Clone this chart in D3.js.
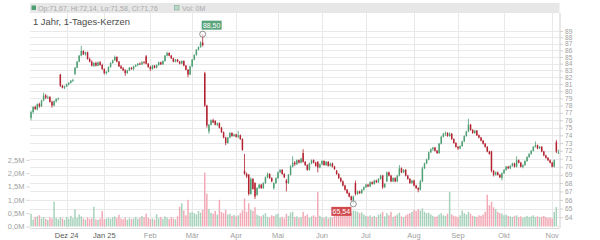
<!DOCTYPE html>
<html>
<head>
<meta charset="utf-8">
<script src="https://cdn.jsdelivr.net/npm/d3@7"></script>
<style>
body { margin: 0; background: #fff; }
svg { display: block; font-family: "Liberation Sans", Arial, sans-serif; }
</style>
</head>
<body>
<svg id="chart" width="600" height="240"></svg>
<script>
// trading calendar (Xetra), one candle per trading day
const firstDay = '2024-11-07';
const holidays = ['2024-12-24', '2024-12-25', '2024-12-26', '2024-12-31', '2025-01-01', '2025-04-18', '2025-04-21', '2025-05-01'];

const openPrice = [
	76.3, 77.1, 77.8, 77.5, 78.2, 77.9, 78.7, 79.4, 79.1, 79.2,
	78.5, 78.0, 78.6, 78.9, 82.4, 80.8, 80.5, 80.7, 81.0, 81.2,
	81.5, 82.5, 83.4, 84.3, 85.2, 85.9, 85.4, 85.7, 84.7, 84.3,
	83.7, 84.1, 83.7, 84.2, 83.8, 83.2, 82.6, 82.8, 83.5, 84.1,
	84.5, 85.0, 84.3, 83.6, 83.3, 83.0, 82.6, 83.0, 83.4, 83.2,
	83.6, 83.8, 84.0, 83.9, 84.2, 85.1, 84.0, 83.5, 83.2, 83.7,
	83.4, 83.8, 84.2, 83.9, 84.4, 85.2, 85.6, 85.2, 84.8, 84.3,
	84.6, 84.3, 84.0, 84.4, 83.7, 83.1, 82.4, 83.6, 84.6, 85.3,
	86.1, 86.5, 87.2, 82.6, 78.0, 74.5, 75.4, 76.0, 75.9, 75.4,
	75.6, 75.0, 74.4, 73.7, 73.0, 73.7, 74.3, 73.9, 74.1, 73.8,
	74.0, 73.5, 69.5, 69.1, 69.0, 66.7, 68.5, 68.0, 66.6, 67.4,
	67.8, 67.4, 68.0, 68.7, 69.1, 68.6, 67.4, 68.0, 68.6, 69.3,
	69.6, 69.1, 68.3, 68.0, 69.0, 70.0, 70.5, 70.3, 70.8, 70.5,
	71.7, 70.6, 70.2, 69.6, 70.4, 70.8, 70.5, 70.6, 69.9, 70.3,
	70.7, 70.2, 70.6, 70.1, 70.4, 70.0, 69.5, 69.1, 68.6, 68.2,
	67.7, 67.2, 66.8, 66.4, 65.9, 68.0, 66.7, 67.0, 66.8, 67.2,
	67.5, 67.8, 67.6, 68.1, 67.9, 68.3, 68.1, 68.5, 68.9, 67.5,
	68.2, 69.3, 68.9, 68.2, 68.6, 68.2, 68.9, 69.8, 69.3, 69.6,
	68.9, 68.5, 68.0, 68.3, 67.7, 67.4, 67.2, 68.2, 69.8, 70.4,
	70.9, 71.8, 72.2, 72.4, 72.0, 71.7, 72.9, 73.8, 74.2, 74.3,
	73.9, 74.2, 73.5, 73.0, 72.5, 72.3, 72.6, 73.2, 73.9, 74.5,
	75.4, 74.7, 74.3, 74.6, 74.0, 73.7, 73.3, 72.9, 72.5, 71.9,
	71.9, 69.5, 69.0, 69.3, 69.0, 68.6, 69.2, 69.6, 70.0, 69.8,
	70.1, 70.4, 70.0, 70.8, 70.5, 70.0, 70.2, 70.7, 71.2, 71.6,
	72.0, 72.5, 72.7, 72.3, 72.5, 71.9, 71.4, 71.1, 70.8, 70.5,
	70.0, 73.1, 71.67
];

const highPrice = [
	77.3, 77.9, 78.0, 78.3, 78.4, 78.8, 79.8, 79.6, 79.4, 79.3,
	78.7, 78.7, 79.0, 79.1, 82.5, 80.9, 80.8, 81.1, 81.3, 81.6,
	81.8, 83.5, 84.4, 85.3, 86.7, 86.0, 85.8, 85.8, 84.9, 84.5,
	84.2, 84.3, 84.3, 84.4, 84.0, 83.3, 82.9, 83.6, 84.2, 84.6,
	85.2, 85.1, 84.4, 83.8, 83.5, 83.2, 83.1, 83.5, 83.5, 83.7,
	83.9, 84.1, 84.2, 84.4, 84.4, 85.3, 84.1, 83.7, 83.8, 83.8,
	83.9, 84.3, 84.3, 84.5, 85.3, 85.8, 85.7, 85.3, 84.9, 84.7,
	84.7, 84.4, 84.5, 84.5, 83.8, 83.2, 83.7, 84.7, 85.4, 86.2,
	86.6, 87.4, 88.5, 82.8, 78.1, 75.5, 76.1, 76.2, 76.0, 75.7,
	75.7, 75.1, 74.5, 73.8, 73.8, 74.4, 74.4, 74.2, 74.2, 74.6,
	74.1, 73.6, 71.6, 69.3, 69.1, 68.7, 68.6, 68.1, 67.5, 67.9,
	67.9, 68.1, 68.8, 69.3, 69.2, 68.7, 68.1, 68.7, 69.4, 69.7,
	69.7, 69.2, 68.5, 69.1, 70.2, 71.3, 70.7, 70.9, 70.9, 71.1,
	72.2, 70.7, 70.3, 70.5, 70.9, 70.9, 70.6, 70.7, 70.4, 70.8,
	70.8, 70.7, 70.7, 70.5, 70.5, 70.1, 69.6, 69.2, 68.7, 68.3,
	67.8, 67.3, 66.9, 66.5, 66.5, 68.3, 67.1, 67.1, 67.3, 67.6,
	67.9, 67.9, 68.2, 68.2, 68.4, 68.4, 68.6, 69.0, 69.0, 68.0,
	69.4, 69.4, 69.0, 68.7, 68.7, 69.0, 70.2, 69.9, 69.7, 69.7,
	69.0, 68.6, 68.4, 68.4, 67.8, 67.5, 68.4, 70.0, 70.5, 71.0,
	71.9, 72.3, 72.5, 72.5, 72.1, 73.0, 73.9, 74.3, 74.5, 74.4,
	74.4, 74.3, 73.6, 73.1, 72.6, 72.7, 73.3, 74.0, 74.6, 76.2,
	75.5, 74.8, 74.7, 74.7, 74.1, 73.8, 73.4, 73.0, 72.6, 72.0,
	72.0, 69.6, 69.4, 69.4, 69.1, 69.3, 69.7, 70.1, 70.1, 70.2,
	70.5, 70.5, 71.3, 70.9, 70.6, 70.3, 70.8, 71.3, 71.7, 72.1,
	72.6, 73.2, 72.8, 72.6, 72.6, 72.0, 71.5, 71.2, 70.9, 70.6,
	70.9, 73.4, 72.14
];

const lowPrice = [
	76.0, 76.9, 77.4, 77.3, 77.7, 77.8, 78.6, 78.9, 78.9, 78.4,
	77.7, 77.9, 78.4, 78.7, 80.6, 80.4, 80.3, 80.6, 80.8, 81.1,
	81.3, 82.3, 83.3, 84.2, 85.1, 85.3, 85.2, 84.6, 84.2, 83.6,
	83.5, 83.6, 83.6, 83.7, 83.1, 82.4, 82.4, 82.7, 83.4, 84.0,
	84.4, 84.2, 83.5, 83.2, 82.9, 82.2, 82.5, 82.9, 83.1, 83.0,
	83.5, 83.6, 83.8, 83.8, 84.0, 83.9, 83.4, 82.9, 83.1, 83.3,
	83.3, 83.7, 83.8, 83.8, 84.3, 85.1, 85.1, 84.7, 84.2, 84.2,
	84.2, 83.9, 83.9, 83.6, 83.0, 82.0, 82.3, 83.5, 84.5, 85.2,
	86.0, 86.4, 86.6, 77.8, 75.0, 74.2, 75.3, 75.6, 75.3, 75.2,
	74.9, 74.3, 73.6, 72.7, 72.9, 73.6, 73.8, 73.8, 73.7, 73.6,
	73.4, 72.0, 69.0, 68.6, 66.5, 66.6, 67.2, 66.1, 66.5, 67.3,
	67.3, 67.3, 67.9, 68.6, 68.5, 68.1, 67.2, 67.9, 68.5, 69.2,
	69.0, 68.6, 67.0, 67.9, 68.9, 69.9, 70.1, 70.2, 70.4, 70.4,
	70.5, 70.1, 69.5, 69.5, 70.3, 70.4, 70.0, 69.3, 69.8, 70.2,
	70.1, 70.1, 70.0, 70.0, 69.9, 69.6, 69.0, 68.5, 68.1, 67.6,
	67.1, 66.7, 66.3, 65.9, 65.54, 66.5, 66.6, 66.7, 66.7, 67.1,
	67.4, 67.5, 67.5, 67.8, 67.8, 68.0, 68.0, 68.4, 67.3, 67.4,
	68.1, 68.8, 68.1, 68.1, 68.1, 68.1, 68.8, 69.2, 69.2, 68.8,
	68.4, 67.9, 67.9, 67.6, 67.3, 66.9, 67.1, 68.1, 69.7, 70.3,
	70.8, 71.7, 72.0, 71.9, 71.6, 71.6, 72.8, 73.7, 73.9, 73.8,
	73.8, 73.4, 72.9, 72.4, 72.1, 72.2, 72.5, 73.1, 73.8, 74.4,
	74.6, 74.2, 74.2, 73.9, 73.6, 73.2, 72.8, 72.4, 71.8, 71.5,
	69.3, 68.8, 68.9, 68.9, 68.6, 68.3, 69.1, 69.5, 69.7, 69.7,
	70.0, 69.9, 69.9, 70.4, 69.9, 69.8, 70.1, 70.6, 71.1, 71.5,
	71.9, 72.4, 72.2, 72.2, 71.8, 71.3, 71.0, 70.7, 70.4, 69.9,
	69.9, 71.7, 71.58
];

const closePrice = [
	77.1, 77.8, 77.5, 78.2, 77.9, 78.7, 79.4, 79.1, 79.2, 78.5,
	78.0, 78.6, 78.9, 79.0, 80.8, 80.5, 80.7, 81.0, 81.2, 81.5,
	81.6, 83.4, 84.3, 85.2, 85.9, 85.4, 85.7, 84.7, 84.3, 83.7,
	84.1, 83.7, 84.2, 83.8, 83.2, 82.6, 82.8, 83.5, 84.1, 84.5,
	85.0, 84.3, 83.6, 83.3, 83.0, 82.6, 83.0, 83.4, 83.2, 83.6,
	83.8, 84.0, 83.9, 84.2, 84.1, 84.0, 83.5, 83.2, 83.7, 83.4,
	83.8, 84.2, 83.9, 84.4, 85.2, 85.6, 85.2, 84.8, 84.3, 84.6,
	84.3, 84.0, 84.4, 83.7, 83.1, 82.4, 83.6, 84.6, 85.3, 86.1,
	86.5, 87.2, 86.8, 78.0, 75.3, 75.4, 76.0, 75.7, 75.4, 75.6,
	75.0, 74.4, 73.7, 73.0, 73.7, 74.3, 73.9, 74.1, 73.8, 74.0,
	73.5, 72.1, 69.1, 68.8, 66.7, 68.5, 67.3, 66.4, 67.4, 67.8,
	67.4, 68.0, 68.7, 69.1, 68.6, 68.2, 68.0, 68.6, 69.3, 69.6,
	69.1, 68.7, 68.0, 69.0, 70.0, 70.5, 70.3, 70.8, 70.5, 71.0,
	70.6, 70.2, 69.6, 70.4, 70.8, 70.5, 70.1, 69.9, 70.3, 70.7,
	70.2, 70.6, 70.1, 70.4, 70.0, 69.7, 69.1, 68.6, 68.2, 67.7,
	67.2, 66.8, 66.4, 66.0, 66.4, 66.7, 67.0, 66.8, 67.2, 67.5,
	67.8, 67.6, 68.1, 67.9, 68.3, 68.1, 68.5, 68.9, 67.5, 67.9,
	69.3, 68.9, 68.2, 68.6, 68.2, 68.9, 69.8, 69.3, 69.6, 68.9,
	68.5, 68.0, 68.3, 67.7, 67.4, 67.2, 68.2, 69.8, 70.4, 70.9,
	71.8, 72.2, 72.4, 72.0, 71.7, 72.9, 73.8, 74.2, 74.3, 73.9,
	74.2, 73.5, 73.0, 72.5, 72.3, 72.6, 73.2, 73.9, 74.5, 75.4,
	74.7, 74.3, 74.6, 74.0, 73.7, 73.3, 72.9, 72.5, 71.9, 71.6,
	69.5, 69.0, 69.3, 69.0, 68.7, 69.2, 69.6, 70.0, 69.8, 70.1,
	70.4, 70.0, 70.8, 70.5, 70.0, 70.2, 70.7, 71.2, 71.6, 72.0,
	72.5, 72.7, 72.3, 72.5, 71.9, 71.4, 71.1, 70.8, 70.5, 70.0,
	70.8, 71.9, 71.76
];

// volume in millions
const volume = [
	0.48, 0.26, 0.36, 0.38, 0.42, 0.30, 0.35, 0.28, 0.25, 0.33,
	0.30, 0.93, 0.32, 0.27, 0.35, 0.30, 0.25, 0.36, 0.29, 0.40,
	0.31, 0.64, 0.33, 0.45, 0.38, 0.30, 0.26, 0.34, 0.28, 0.31,
	0.74, 0.27, 0.25, 0.30, 0.58, 0.28, 0.30, 0.33, 0.29, 0.35,
	0.38, 0.32, 0.44, 0.30, 0.27, 0.33, 0.26, 0.31, 0.28, 0.30,
	0.36, 0.29, 0.33, 0.40, 0.35, 0.48, 0.32, 0.28, 0.30, 0.26,
	0.46, 0.31, 0.36, 0.29, 0.38, 0.33, 0.28, 0.35, 0.30, 0.27,
	0.38, 0.74, 0.87, 0.60, 0.42, 1.00, 0.52, 0.55, 0.50, 0.46,
	0.58, 0.52, 0.62, 2.02, 1.23, 0.66, 0.52, 0.48, 0.58, 0.45,
	1.00, 0.55, 0.50, 0.62, 0.45, 0.48, 0.40, 0.44, 0.38, 0.42,
	0.50, 0.60, 1.05, 0.55, 0.87, 0.62, 0.58, 0.72, 0.45, 0.40,
	0.38, 0.44, 0.50, 0.36, 0.34, 0.42, 0.39, 0.45, 0.48, 0.33,
	0.36, 0.30, 0.48, 0.40, 0.52, 0.55, 0.35, 0.38, 0.32, 0.36,
	0.55, 0.40, 0.45, 0.33, 0.38, 0.42, 0.36, 1.29, 0.40, 0.35,
	0.32, 0.38, 0.30, 0.35, 0.33, 0.40, 0.45, 0.52, 0.48, 0.55,
	0.50, 0.46, 0.55, 0.52, 0.60, 0.58, 0.55, 0.50, 0.53, 0.45,
	0.40, 0.38, 0.42, 0.36, 0.40, 0.35, 0.44, 0.48, 0.55, 0.38,
	0.50, 0.42, 0.55, 0.36, 0.40, 0.45, 0.52, 0.38, 0.35, 0.42,
	0.46, 0.50, 0.55, 0.62, 0.58, 0.65, 0.60, 0.68, 0.55, 0.50,
	0.52, 0.45, 0.40, 0.36, 0.38, 0.45, 0.50, 0.42, 0.40, 0.48,
	1.29, 0.45, 0.40, 0.38, 0.35, 0.42, 0.60, 0.50, 0.45, 0.55,
	0.48, 0.40, 0.38, 0.36, 0.42, 0.40, 0.45, 0.55, 1.19, 0.80,
	0.93, 0.72, 0.65, 0.55, 0.50, 0.48, 0.42, 0.45, 0.40, 0.38,
	0.36, 0.40, 0.42, 0.35, 0.38, 0.33, 0.36, 0.40, 0.35, 0.38,
	0.42, 0.36, 0.38, 0.34, 0.36, 0.40, 0.35, 0.32, 0.34, 0.30,
	0.55, 0.73, 0.02
];

const monthLabels = ['Dez 24', 'Jan 25', 'Feb', 'Mär', 'Apr', 'Mai', 'Jun', 'Jul', 'Aug', 'Sep', 'Okt', 'Nov'];
const yearLabels = ['Dez 24', 'Jan 25'];
const priceTicks = [64, 65, 66, 67, 68, 69, 70, 71, 72, 73, 74, 75, 76, 77, 78, 79, 80, 81, 82, 83, 84, 85, 86, 87, 88, 89];
const volumeTicks = [0, 0.5, 1, 1.5, 2, 2.5];

const title = '1 Jahr, 1-Tages-Kerzen';

const n = closePrice.length;
const de = d3.formatLocale({decimal: ',', thousands: '.', grouping: [3], currency: ['', ' €']});
const fmt2 = de.format('.2f');
const fmt1 = de.format('.1f');

// build the trading days
const days = [];
let cur = new Date(firstDay + 'T12:00:00Z');
while (days.length < n) {
	let wd = cur.getUTCDay();
	let iso = cur.toISOString().slice(0, 10);
	if (wd !== 0 && wd !== 6 && !holidays.includes(iso)) days.push(new Date(cur));
	cur.setUTCDate(cur.getUTCDate() + 1);
}
const monthStarts = d3.range(1, n).filter(i => days[i].getUTCMonth() !== days[i - 1].getUTCMonth());

const candles = d3.range(n).map(i => ({
	i, o: openPrice[i], h: highPrice[i], l: lowPrice[i], c: closePrice[i], v: volume[i],
	up: closePrice[i] >= openPrice[i],
	volUp: i === 0 ? closePrice[i] >= openPrice[i] : closePrice[i] >= closePrice[i - 1]
}));

const plotLeft = 30, plotRight = 559.5, plotTop = 13, plotBottom = 228;

const x = d3.scaleBand()
	.domain(d3.range(n))
	.range([plotLeft, plotRight])
	.paddingInner(0.3)
	.paddingOuter(0.15);

const cx = i => x(i) + x.bandwidth() / 2;

const y = d3.scaleLog()
	.domain([64, 89])
	.range([217.3, 31]);

const yVol = d3.scaleLinear()
	.domain([0, 2.5])
	.range([226.5, 159.8]);

const green = '#4f9f74';
const red = '#b3212f';
const greenVol = '#a6d2bb';
const redVol = '#f2a9b5';
const grid = '#e9e9e9';
const axisText = '#a0a0a0';

const svg = d3.select('#chart');

svg.append('rect').attr('width', 600).attr('height', 240).attr('fill', '#fff');

// gridlines
svg.append('g')
	.selectAll('line')
	.data(priceTicks)
	.join('line')
	.attr('x1', plotLeft).attr('x2', plotRight)
	.attr('y1', d => Math.round(y(d)) + 0.5).attr('y2', d => Math.round(y(d)) + 0.5)
	.attr('stroke', grid);

svg.append('g')
	.selectAll('line')
	.data(monthStarts)
	.join('line')
	.attr('x1', d => Math.round(cx(d)) + 0.5).attr('x2', d => Math.round(cx(d)) + 0.5)
	.attr('y1', 3).attr('y2', plotBottom)
	.attr('stroke', grid);

// header bar with legend
svg.append('rect')
	.attr('x', plotLeft).attr('y', 3).attr('width', plotRight - plotLeft).attr('height', 10)
	.attr('fill', '#e7e7e7');

let last = candles[n - 1];
svg.append('rect').attr('x', 31.5).attr('y', 5.5).attr('width', 4.5).attr('height', 4.5).attr('fill', green);
svg.append('text')
	.attr('x', 38).attr('y', 10.5)
	.attr('font-size', 7).attr('fill', '#a8a8a8')
	.text(`Op:${fmt2(last.o)}, Hi:${fmt2(last.h)}, Lo:${fmt2(last.l)}, Cl:${fmt2(last.c)}`);
svg.append('rect').attr('x', 174.5).attr('y', 5.5).attr('width', 4.5).attr('height', 4.5)
	.attr('fill', '#bcd8c8').attr('stroke', '#8fb9a2').attr('stroke-width', 0.8);
svg.append('text')
	.attr('x', 182).attr('y', 10.5)
	.attr('font-size', 7).attr('fill', '#a8a8a8')
	.text(`Vol: ${Math.round(last.v)}M`);

// title
svg.append('text')
	.attr('x', 33).attr('y', 25)
	.attr('font-size', 9.4).attr('fill', '#4a4a4a')
	.text(title);

// volume bars
svg.append('g')
	.selectAll('rect')
	.data(candles)
	.join('rect')
	.attr('x', d => x(d.i))
	.attr('width', x.bandwidth())
	.attr('y', d => yVol(d.v))
	.attr('height', d => yVol(0) - yVol(d.v))
	.attr('fill', d => d.volUp ? greenVol : redVol);

// candles
let candle = svg.append('g')
	.selectAll('g')
	.data(candles)
	.join('g');

candle.append('line')
	.attr('x1', d => cx(d.i)).attr('x2', d => cx(d.i))
	.attr('y1', d => y(d.h)).attr('y2', d => y(d.l))
	.attr('stroke', d => d.up ? green : red)
	.attr('stroke-width', 0.8);

candle.append('rect')
	.attr('x', d => x(d.i))
	.attr('width', x.bandwidth())
	.attr('y', d => y(Math.max(d.o, d.c)))
	.attr('height', d => Math.max(0.8, Math.abs(y(d.o) - y(d.c))))
	.attr('fill', d => d.up ? green : red);

// right price axis
let yAxis = svg.append('g')
	.attr('transform', `translate(${plotRight + 0.5},0)`)
	.call(d3.axisRight(y).tickValues(priceTicks).tickSize(3).tickPadding(2).tickFormat(d3.format('d')));
yAxis.select('.domain').attr('stroke', '#d0d0d0').attr('d', `M0,${plotTop}V${plotBottom}`);
yAxis.selectAll('.tick line').attr('stroke', '#d0d0d0');
yAxis.selectAll('.tick text').attr('fill', axisText).attr('font-size', 6.6).attr('font-family', null);

// left volume axis
let vAxis = svg.append('g')
	.attr('transform', `translate(${plotLeft - 0.5},0)`)
	.call(d3.axisLeft(yVol).tickValues(volumeTicks).tickSize(3).tickPadding(2).tickFormat(d => fmt1(d) + 'M'));
vAxis.select('.domain').remove();
vAxis.selectAll('.tick line').attr('stroke', '#d0d0d0');
vAxis.selectAll('.tick text').attr('fill', axisText).attr('font-size', 7.5).attr('font-family', null);

// bottom line and month labels
svg.append('line')
	.attr('x1', plotLeft).attr('x2', plotRight)
	.attr('y1', plotBottom + 0.5).attr('y2', plotBottom + 0.5)
	.attr('stroke', '#dcdcdc');

svg.append('g')
	.selectAll('text')
	.data(monthStarts)
	.join('text')
	.attr('x', d => cx(d))
	.attr('y', 238)
	.attr('text-anchor', 'middle')
	.attr('font-size', 7.5)
	.attr('fill', (d, k) => yearLabels.includes(monthLabels[k]) ? '#5a5a5a' : axisText)
	.text((d, k) => monthLabels[k]);

// max / min markers
let hiIdx = d3.maxIndex(highPrice);
let loIdx = d3.minIndex(lowPrice);

function marker(i, value, color, dx, dy) {
	let px = cx(i), py = y(value);
	let g = svg.append('g');
	g.append('rect')
		.attr('x', px + dx).attr('y', py + dy)
		.attr('width', 20).attr('height', 9)
		.attr('fill', color);
	g.append('text')
		.attr('x', px + dx + 10).attr('y', py + dy + 7)
		.attr('text-anchor', 'middle')
		.attr('font-size', 7).attr('fill', '#fff')
		.text(fmt2(value));
	g.append('circle')
		.attr('cx', px).attr('cy', py).attr('r', 3)
		.attr('fill', 'rgba(255,255,255,0.6)').attr('stroke', '#777').attr('stroke-width', 0.8);
}

marker(hiIdx, highPrice[hiIdx], '#5aa47b', -1, -13.5);
marker(loIdx, lowPrice[loIdx], '#d0494d', -22, 3);
</script>
</body>
</html>
